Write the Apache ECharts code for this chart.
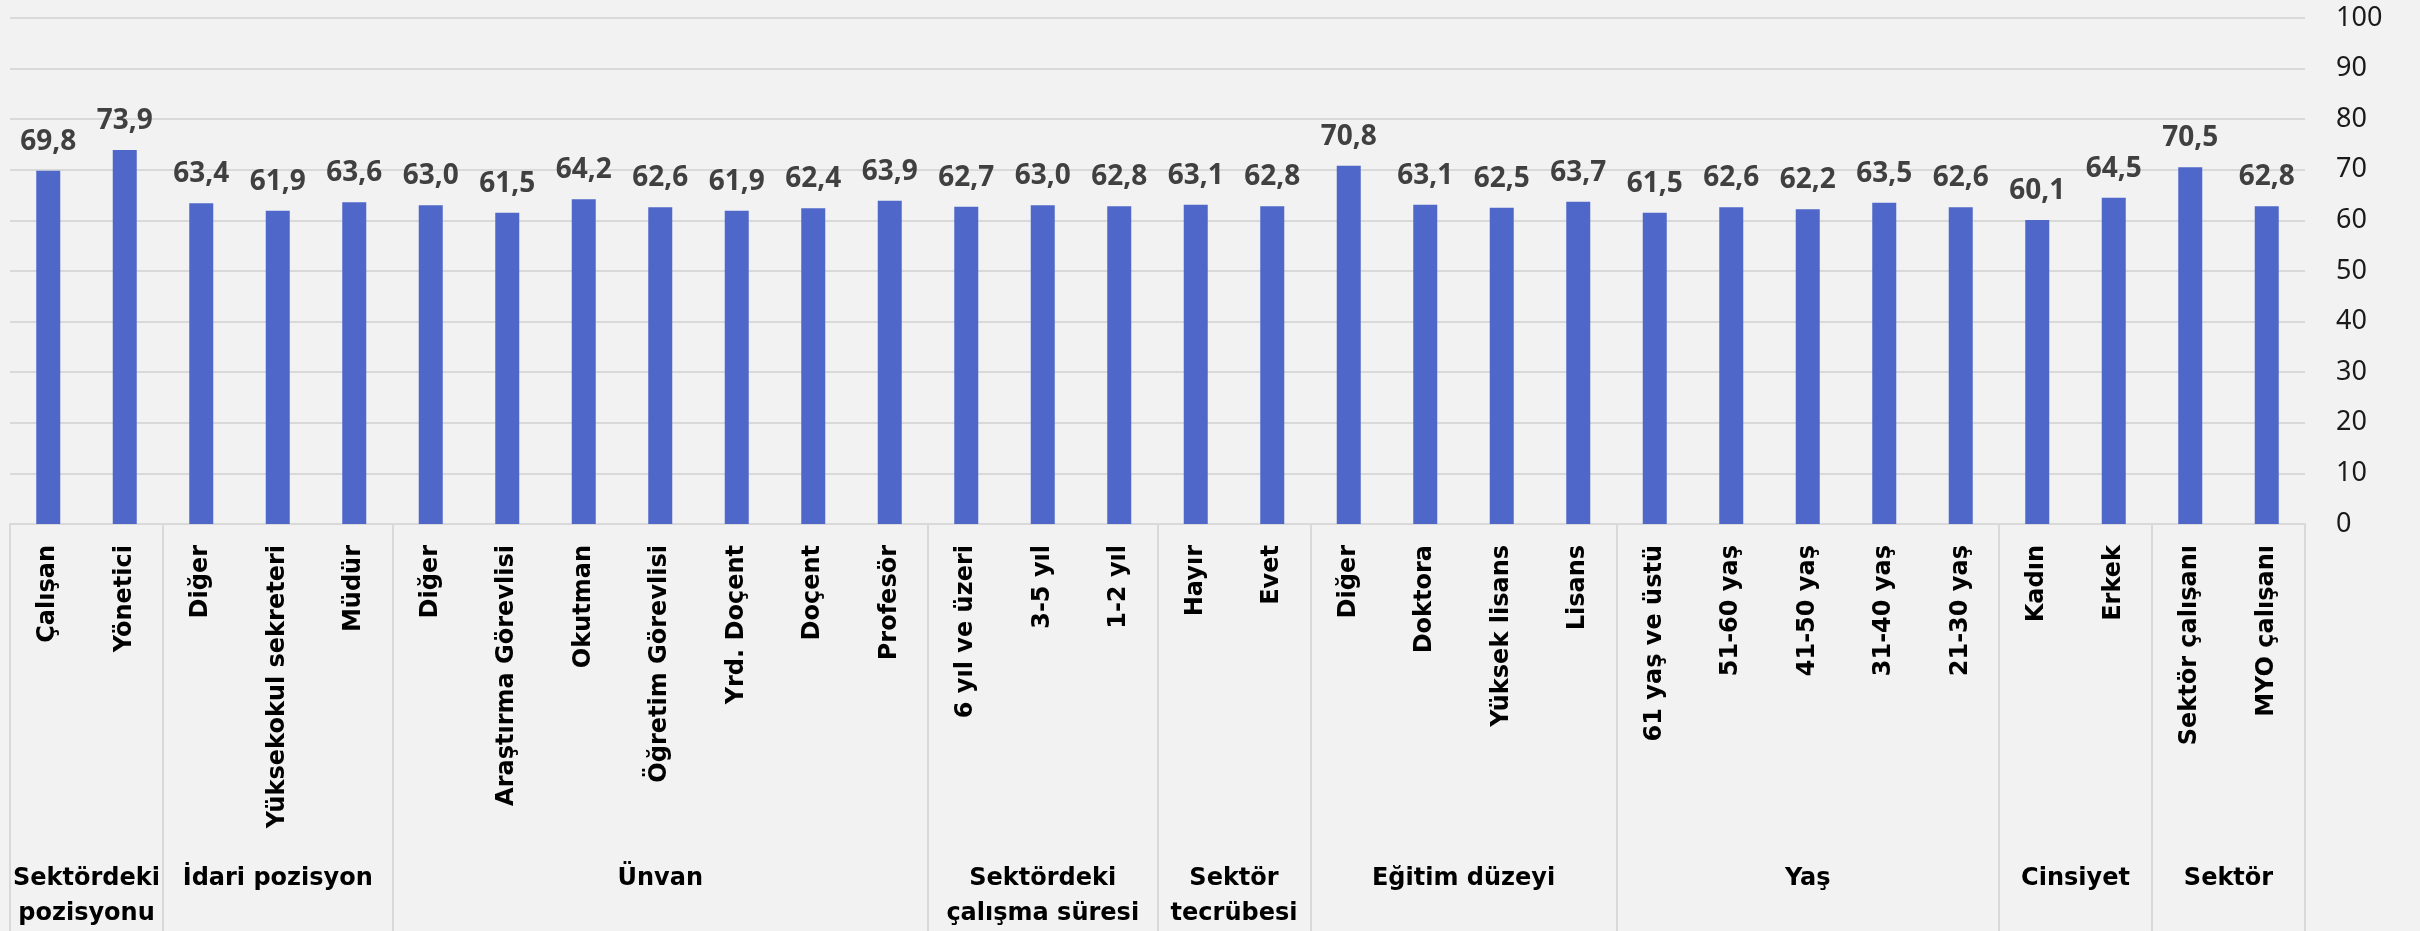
<!DOCTYPE html>
<html>
<head>
<meta charset="utf-8">
<title>Sektör grupları</title>
<script src="https://cdn.jsdelivr.net/npm/echarts@6/dist/echarts.min.js"></script>
<style>
  html, body { margin: 0; padding: 0; background: #f2f2f2; }
  #chart { width: 2420px; height: 931px; }
</style>
</head>
<body>
<div id="chart"></div>
<script>
// kategoriler (soldan sağa)
const categories = [
  'Çalışan', 'Yönetici',
  'Diğer', 'Yüksekokul sekreteri', 'Müdür',
  'Diğer', 'Araştırma Görevlisi', 'Okutman', 'Öğretim Görevlisi', 'Yrd. Doçent', 'Doçent', 'Profesör',
  '6 yıl ve üzeri', '3-5 yıl', '1-2 yıl',
  'Hayır', 'Evet',
  'Diğer', 'Doktora', 'Yüksek lisans', 'Lisans',
  '61 yaş ve üstü', '51-60 yaş', '41-50 yaş', '31-40 yaş', '21-30 yaş',
  'Kadın', 'Erkek',
  'Sektör çalışanı', 'MYO çalışanı'
]

const values = [
  69.8, 73.9,
  63.4, 61.9, 63.6,
  63.0, 61.5, 64.2, 62.6, 61.9, 62.4, 63.9,
  62.7, 63.0, 62.8,
  63.1, 62.8,
  70.8, 63.1, 62.5, 63.7,
  61.5, 62.6, 62.2, 63.5, 62.6,
  60.1, 64.5,
  70.5, 62.8
]

// gruplar ve her gruptaki kategori sayısı
const groupNames = [
  'Sektördeki\npozisyonu', 'İdari pozisyon', 'Ünvan', 'Sektördeki\nçalışma süresi',
  'Sektör\ntecrübesi', 'Eğitim düzeyi', 'Yaş', 'Cinsiyet', 'Sektör'
]
const groupSizes = [2, 3, 7, 3, 2, 4, 5, 2, 2]

const yTicks = [0, 10, 20, 30, 40, 50, 60, 70, 80, 90, 100]

// grup sınırları ve ortaları (kategori indeksleri cinsinden)
const groupBounds = [0]
const groupCenters = []
groupSizes.forEach((n, i) => {
  const start = groupBounds[i]
  groupBounds.push(start + n)
  groupCenters.push(start + n / 2)
})

const chart = echarts.init(document.getElementById('chart'))

const option = {
  backgroundColor: '#f2f2f2',
  animation: false,
  grid: {
    left: 10,
    right: 115,
    top: 18,
    bottom: 407
  },
  xAxis: [
    {
      type: 'category',
      data: categories,
      axisLine: { show: true, lineStyle: { color: '#d9d9d9', width: 2 } },
      axisTick: { show: false },
      axisLabel: {
        interval: 0,
        rotate: 90,
        margin: 21,
        color: '#000',
        fontFamily: 'DejaVu Sans',
        fontWeight: 'bold',
        fontSize: 24
      }
    },
    {
      // grup etiketleri ve ayırıcı çizgiler
      type: 'value',
      position: 'bottom',
      min: 0,
      max: categories.length,
      axisLine: { show: false },
      splitLine: { show: false },
      axisTick: {
        show: true,
        customValues: groupBounds,
        length: 410,
        lineStyle: { color: '#d9d9d9', width: 2 }
      },
      axisLabel: {
        customValues: groupCenters,
        margin: 337,
        verticalAlign: 'top',
        lineHeight: 35,
        color: '#000',
        fontFamily: 'DejaVu Sans',
        fontWeight: 'bold',
        fontSize: 24,
        formatter: (val) => {
          const idx = groupCenters.findIndex(c => Math.abs(c - val) < 1e-6)
          return idx >= 0 ? groupNames[idx] : ''
        }
      }
    }
  ],
  yAxis: {
    type: 'value',
    position: 'right',
    min: yTicks[0],
    max: yTicks[yTicks.length - 1],
    interval: yTicks[1] - yTicks[0],
    axisLine: { show: false },
    axisTick: { show: false },
    splitLine: { lineStyle: { color: '#d9d9d9', width: 2 } },
    axisLabel: {
      margin: 31,
      color: '#1a1a1a',
      fontFamily: 'Noto Sans',
      fontSize: 27
    }
  },
  series: [
    {
      type: 'bar',
      xAxisIndex: 0,
      data: values,
      barWidth: 24,
      itemStyle: { color: '#4f67c9' },
      label: {
        show: true,
        position: 'top',
        distance: 15,
        color: '#404040',
        fontFamily: 'Noto Sans',
        fontWeight: 'bold',
        fontSize: 28,
        formatter: (p) => p.value.toFixed(1).replace('.', ',')
      }
    }
  ]
}

chart.setOption(option)
</script>
</body>
</html>
